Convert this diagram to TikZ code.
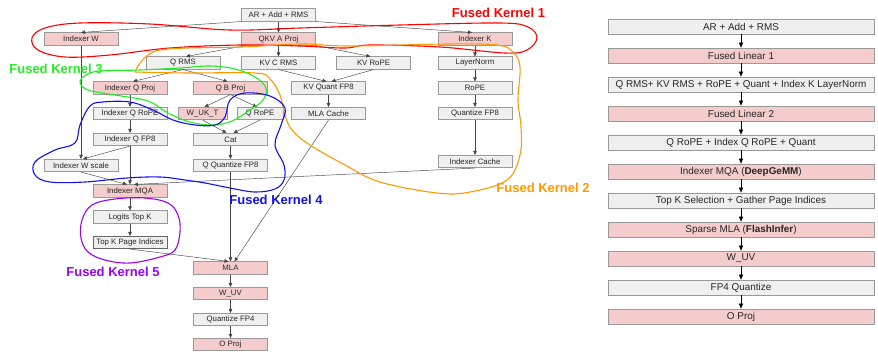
\documentclass[tikz,border=0pt]{standalone}
\usepackage{fontspec}
\setmainfont{Liberation Sans}
\usetikzlibrary{arrows.meta}
\definecolor{pk}{HTML}{F4CCCC}
\definecolor{gy}{HTML}{EFEFEF}
\definecolor{bd}{HTML}{999999}
\definecolor{ln}{HTML}{444444}
\definecolor{fkred}{HTML}{FF0000}
\definecolor{fkorange}{HTML}{FF9900}
\definecolor{fkgreen}{HTML}{22EE22}
\definecolor{fkblue}{HTML}{1111EE}
\definecolor{fkpurple}{HTML}{9900FF}
\begin{document}
\begin{tikzpicture}[x=1pt,y=-1pt,
  box/.style={draw=bd, line width=0.6pt, minimum width=74pt, minimum height=12.5pt, inner sep=0pt, font=\fontsize{7.8}{9}\selectfont, text=black!85},
  pbox/.style={box, fill=pk},
  gbox/.style={box, fill=gy},
  rbox/.style={draw=bd, line width=0.7pt, minimum width=266pt, minimum height=15pt, inner sep=0pt, font=\fontsize{9.9}{11}\selectfont, text=black!85},
  rpbox/.style={rbox, fill=pk},
  rgbox/.style={rbox, fill=gy},
  edge/.style={draw=ln, line width=0.45pt, -{Triangle[length=4pt,width=3.5pt]}},
  redge/.style={draw=black, line width=0.6pt, -{Triangle[length=5pt,width=4pt]}},
  fk/.style={line width=1.1pt},
  fklabel/.style={font=\fontsize{13}{15}\selectfont\bfseries, inner sep=0pt}
]
\useasboundingbox (0,0) rectangle (878,360);
\fill[white] (0,0) rectangle (878,360);

% ---------- left diagram nodes ----------
\node[gbox] (ar) at (278.5,15) {AR + Add + RMS};
\node[pbox] (iw) at (81,39) {Indexer W};
\node[pbox] (qkv) at (278.5,39) {QKV A Proj};
\node[pbox] (ik) at (475,39) {Indexer K};
\node[gbox] (qrms) at (183,63) {Q RMS};
\node[gbox] (kvc) at (278.5,63) {KV C RMS};
\node[gbox] (kvr) at (373.5,63) {KV RoPE};
\node[gbox] (lnorm) at (475,63) {LayerNorm};
\node[pbox] (iqp) at (130,88) {Indexer Q Proj};
\node[pbox] (qbp) at (230.5,88) {Q B Proj};
\node[gbox] (kvq) at (328.5,88) {KV Quant FP8};
\node[gbox] (rope) at (475,88) {RoPE};
\node[gbox] (iqr) at (130,113.5) {Indexer Q RoPE};
\node[pbox, minimum width=49pt] (wukt) at (202.5,113.5) {W\_UK\_T};
\node[gbox, minimum width=46pt] (qrope) at (260,113.5) {Q RoPE};
\node[gbox] (mlac) at (328.5,113.5) {MLA Cache};
\node[gbox] (qfp8) at (475,113.5) {Quantize FP8};
\node[gbox] (iqf) at (130,139.5) {Indexer Q FP8};
\node[gbox] (cat) at (230.5,139.5) {Cat};
\node[gbox] (ic) at (475,161.5) {Indexer Cache};
\node[gbox] (iws) at (81,165.5) {Indexer W scale};
\node[gbox] (qq) at (230.5,165.5) {Q Quantize FP8};
\node[pbox] (imqa) at (130,191) {Indexer MQA};
\node[gbox] (ltk) at (130,217) {Logits Top K};
\node[gbox, draw=black!60] (tkpi) at (130,242.5) {Top K Page Indices};
\node[pbox] (mla) at (230.5,268) {MLA};
\node[pbox] (wuv) at (230.5,293.5) {W\_UV};
\node[gbox] (qfp4) at (230.5,319.5) {Quantize FP4};
\node[pbox] (oproj) at (230.5,344.5) {O Proj};

% ---------- left diagram edges ----------
\draw[edge] (ar.south west) -- (iw.north);
\draw[edge] (ar) -- (qkv);
\draw[edge] (ar.south east) -- ([xshift=-3pt]ik.north);
\draw[edge] ([xshift=5pt]qkv.south west) -- ([xshift=3pt]qrms.north);
\draw[edge] (qkv) -- (kvc);
\draw[edge] (qkv.south east) -- ([xshift=-3pt]kvr.north);
\draw[edge] (ik) -- (lnorm);
\draw[edge] (lnorm) -- (rope);
\draw[edge] (rope) -- (qfp8);
\draw[edge] (qfp8) -- (ic);
\draw[edge] (qrms.south) -- ([xshift=3pt]iqp.north);
\draw[edge] (qrms.south) -- ([xshift=-3pt]qbp.north);
\draw[edge] (kvc.south) -- ([xshift=-2pt]kvq.north);
\draw[edge] (kvr.south) -- ([xshift=3pt]kvq.north);
\draw[edge] (kvq) -- (mlac);
\draw[edge] (iqp) -- (iqr);
\draw[edge] (qbp.south) -- ([xshift=2pt]wukt.north);
\draw[edge] (qbp.south) -- ([xshift=-3pt]qrope.north);
\draw[edge] (iqr) -- (iqf);
\draw[edge] (wukt.south) -- ([xshift=-4pt]cat.north);
\draw[edge] (qrope.south) -- ([xshift=3pt]cat.north);
\draw[edge] (cat) -- (qq);
\draw[edge] (iw) -- (iws);
\draw[edge] (iqf.south) -- ([xshift=2pt]iws.north);
\draw[edge] (iqf) -- (imqa);
\draw[edge] (iws.south) -- ([xshift=-3pt]imqa.north);
\draw[edge] (ic.south) -- ([xshift=4pt]imqa.north);
\draw[edge] (imqa) -- (ltk);
\draw[edge] (ltk) -- (tkpi);
\draw[edge] (tkpi.south) -- ([xshift=-2pt]mla.north);
\draw[edge] (qq) -- (mla);
\draw[edge] (mlac.south) -- ([xshift=4pt]mla.north);
\draw[edge] (mla) -- (wuv);
\draw[edge] (wuv) -- (qfp4);
\draw[edge] (qfp4) -- (oproj);

% ---------- fused kernel outlines ----------
\draw[fk, fkred] plot[smooth cycle, tension=0.6] coordinates {(32,38) (45,28) (80,23) (150,24) (230,30) (300,28) (400,25) (500,23) (528,27) (537,38) (527,50) (505,53) (440,47) (370,45) (345,48) (300,46) (240,45) (170,48) (110,55) (65,57) (38,50)};
\draw[fk, fkorange] plot[smooth, tension=0.6] coordinates {(135,72) (187,73) (255,73) (270,79) (280,95) (285,115) (292,130) (310,145) (345,165) (380,182) (437,193) (470,192) (507,180) (520,155) (521,127) (518,100) (520,67) (513,52) (497,45) (447,44) (350,46) (300,44) (242,47) (187,48) (160,50) (148,55) (140,63) (135,72)};
\draw[fk, fkgreen] plot[smooth cycle, tension=0.6] coordinates {(100,71) (140,70) (180,68) (210,66) (235,69) (255,77) (266,88) (263,100) (250,110) (232,121) (213,125) (190,122) (168,113) (148,101) (115,95) (88,90) (80,82) (86,75)};
\draw[fk, fkblue] plot[smooth cycle, tension=0.6] coordinates {(90,106) (103,102) (130,102) (153,110) (173,120) (195,125) (215,125) (225,117) (230,100) (245,93) (270,96) (285,108) (281,125) (275,145) (284,165) (284,180) (275,189) (255,192) (230,188) (205,183) (185,180) (160,177) (127,178) (85,182) (50,182) (35,175) (35,162) (55,150) (75,143) (80,125)};
\draw[fk, fkpurple] plot[smooth cycle, tension=0.6] coordinates {(92,205) (115,199) (145,198) (168,203) (178,215) (180,232) (175,250) (160,257) (130,263) (105,260) (88,252) (81,238) (82,220)};

\node[fklabel, text=fkred] (l1) at (498.5,13) {Fused Kernel 1};
\node[fklabel, text=fkgreen] (l3) at (56,69) {Fused Kernel 3};
\node[fklabel, text=fkblue] (l4) at (276,200) {Fused Kernel 4};
\node[fklabel, text=fkorange] (l2) at (543,188) {Fused Kernel 2};
\node[fklabel, text=fkpurple] (l5) at (113,272) {Fused Kernel 5};

% ---------- right diagram ----------
\node[rgbox] (r1) at (741,26.5) {AR + Add + RMS};
\node[rpbox] (r2) at (741,55.5) {Fused Linear 1};
\node[rgbox] (r3) at (741,84.5) {Q RMS+ KV RMS + RoPE + Quant + Index K LayerNorm};
\node[rpbox] (r4) at (741,113.5) {Fused Linear 2};
\node[rgbox] (r5) at (741,142.5) {Q RoPE + Index Q RoPE + Quant};
\node[rpbox] (r6) at (741,171.5) {Indexer MQA (\textbf{DeepGeMM})};
\node[rgbox] (r7) at (741,200.5) {Top K Selection + Gather Page Indices};
\node[rpbox] (r8) at (741,229.5) {Sparse MLA (\textbf{FlashInfer})};
\node[rpbox] (r9) at (741,258.5) {W\_UV};
\node[rgbox] (r10) at (741,287.5) {FP4 Quantize};
\node[rpbox] (r11) at (741,316.5) {O Proj};
\foreach \a/\b in {r1/r2,r2/r3,r3/r4,r4/r5,r5/r6,r6/r7,r7/r8,r8/r9,r9/r10,r10/r11}
  \draw[redge] (\a) -- (\b);
\end{tikzpicture}
\end{document}
